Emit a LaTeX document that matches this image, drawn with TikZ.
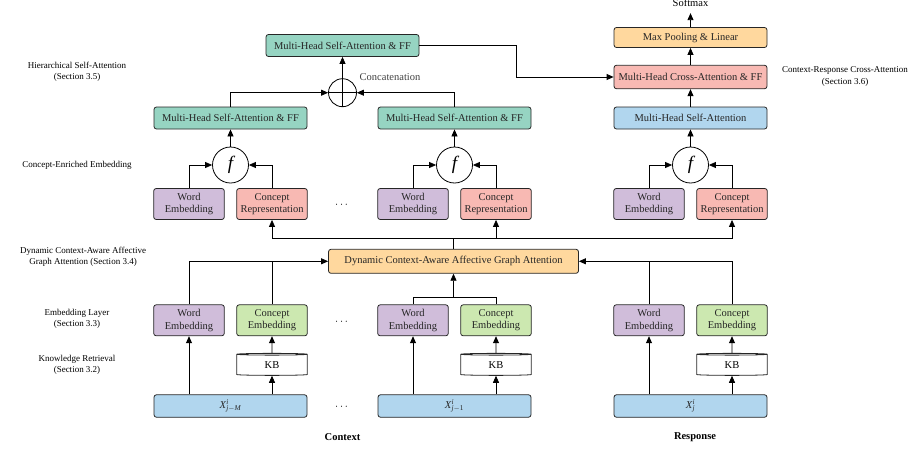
\documentclass[tikz,border=0pt]{standalone}
\usepackage{amsmath}
\usepackage{fontspec}
\setmainfont{Liberation Serif}
\usepackage{tikz}
\usetikzlibrary{positioning, shapes, arrows.meta, calc}

\definecolor{ffteal}{HTML}{96D4C2}
\definecolor{wordpurple}{HTML}{D0BDDA}
\definecolor{reppink}{HTML}{F8B9B3}
\definecolor{embgreen}{HTML}{CCE8B0}
\definecolor{inblue}{HTML}{B1D6EE}
\definecolor{gaorange}{HTML}{FFD89E}

\begin{document}
\begin{tikzpicture}[x=1pt, y=-1pt, line width=0.8pt, >={Triangle[length=7pt,width=6pt]},
    box/.style={draw=black!85, rounded corners=2.5pt, align=center, inner sep=1pt, text=black!85,
      font=\fontsize{10.5}{12.5}\selectfont},
    widebox/.style={box, minimum width=153pt, minimum height=22pt},
    smallbox/.style={box, minimum width=70.6pt, minimum height=31pt},
    kbbox/.style={cylinder, shape border rotate=90, aspect=0.12, draw=black!85, fill=white,
      minimum width=70.6pt, minimum height=22pt, inner sep=0pt, font=\fontsize{10.5}{12.5}\selectfont},
    fcircle/.style={circle, draw, fill=white, minimum size=36pt, inner sep=0pt, font=\fontsize{19}{19}\selectfont\itshape},
    sectag/.style={align=center, font=\fontsize{9}{11.5}\selectfont},
    plain/.style={font=\fontsize{10.5}{12.5}\selectfont}]

                  \useasboundingbox (0,0) rectangle (913,450);

                  % Nodes
                  \foreach \c/\x/\lab in {1/230.5/{\textit{j}$-$\textit{M}}, 2/454.5/{\textit{j}$-$1}, 3/690.5/{\textit{j}}} {
                  \node[widebox, fill=inblue, minimum height=22.5pt] (utt\c) at (\x,406) {\textit{X}$^{\textit{i}}_{\text{\lab}}$};
                  \node[kbbox] (kb\c) at (\x+41.5,365) {KB};
                  \node[smallbox, fill=wordpurple] (ew\c) at (\x-41.5,320.3) {Word\\Embedding};
                  \node[smallbox, fill=embgreen] (ec\c) at (\x+41.5,320.3) {Concept\\Embedding};
                  \node[smallbox, fill=wordpurple] (w\c) at (\x-41.5,204) {Word\\Embedding};
                  \node[smallbox, fill=reppink] (cr\c) at (\x+41.5,204) {Concept\\Representation};
                  \node[fcircle] (f\c) at (\x,165) {f};
                  }
                  \node[widebox, fill=ffteal] (sa1) at (230.5,118) {Multi-Head Self-Attention \& FF};
                  \node[widebox, fill=ffteal] (sa2) at (454.5,118) {Multi-Head Self-Attention \& FF};
                  \node[widebox, fill=inblue] (sa3) at (690.5,118) {Multi-Head Self-Attention};
                  \node[circle, draw, minimum size=28pt, inner sep=0pt] (cat) at (342.5,92.7) {};
                  \node[plain, anchor=west, text=black!75] (catname) at (356,77) {Concatenation};
                  \node[widebox, fill=ffteal] (hier) at (342.5,45.5) {Multi-Head Self-Attention \& FF};
                  \node[widebox, fill=reppink, minimum height=23.5pt] (cross) at (690.5,77) {Multi-Head Cross-Attention \& FF};
                  \node[widebox, fill=gaorange, minimum height=20pt] (pool) at (690.5,37.5) {Max Pooling \& Linear};
                  \node[plain, inner ysep=6pt] (softmax) at (690.5,3) {Softmax};
                  \node[widebox, fill=gaorange, minimum width=250pt, minimum height=24pt] (gat) at (453.5,261.3) {Dynamic Context-Aware Affective Graph Attention};

                  \node[plain] (dots1) at (342.5,205) {$\cdots$};
                  \node[plain] (dots2) at (342.5,321.7) {$\cdots$};
                  \node[plain] (dots3) at (342.5,407) {$\cdots$};
                  \node[plain, font=\fontsize{10.5}{12.5}\selectfont\bfseries] (ctxname) at (342.5,437) {Context};
                  \node[plain, font=\fontsize{10.5}{12.5}\selectfont\bfseries] (respname) at (695,437) {Response};

                  % Section labels
                  \node[sectag] (tag35) at (77,72) {Hierarchical Self-Attention\\(Section 3.5)};
                  \node[sectag] (tagce) at (77,165) {Concept-Enriched Embedding};
                  \node[sectag] (tag34) at (83,257) {Dynamic Context-Aware Affective\\Graph Attention (Section 3.4)};
                  \node[sectag] (tag33) at (77,319) {Embedding Layer\\(Section 3.3)};
                  \node[sectag] (tag32) at (77,365) {Knowledge Retrieval\\(Section 3.2)};
                  \node[sectag] (tag36) at (845,76.5) {Context-Response Cross-Attention\\(Section 3.6)};

                  % Arrows
                  \foreach \c in {1,2,3} {
                  \draw[->] (utt\c.north -| ew\c) -- (ew\c.south);
                  \draw[->] (utt\c.north -| kb\c) -- (kb\c.south);
                  \draw[->] (kb\c.north) -- (ec\c.south);
                  \draw[->] (w\c.north) |- (f\c.west);
                  \draw[->] (cr\c.north) |- (f\c.east);
                  \draw[->] (f\c.north) -- (sa\c.south);
                  }
                  \draw[->] (sa1.north) |- (cat.west);
                  \draw[->] (sa2.north) |- (cat.east);
                  \draw[->] (cat.north) -- (hier.south);
                  \draw (cat.north) -- (cat.south) (cat.west) -- (cat.east);
                  \coordinate (hop) at (516.7,60);
                  \draw[->] (hier.east) -| (hop) |- (cross.west);
                  \draw[->] (sa3.north) -- (cross.south);
                  \draw[->] (cross.north) -- (pool.south);
                  \draw[->] (pool.north) -- (softmax.south);

                  \coordinate (fan) at (453.5,238.3);
                  \draw (gat.north) -- (fan);
                  \foreach \c in {1,2,3}
                  \draw[->] (fan) -| (cr\c.south);
                  \draw[->] (ew1.north) |- (gat.west);
                  \draw (ec1.north) -- (ec1.north |- gat.west);
                  \draw[->] (ec3.north) |- (gat.east);
                  \draw (ew3.north) -- (ew3.north |- gat.east);
                  \coordinate (merge) at (453.5,297.7);
                  \draw (ew2.north) |- (merge) -| (ec2.north);
                  \draw[->] (merge) -- (gat.south);
              \end{tikzpicture}
\end{document}
